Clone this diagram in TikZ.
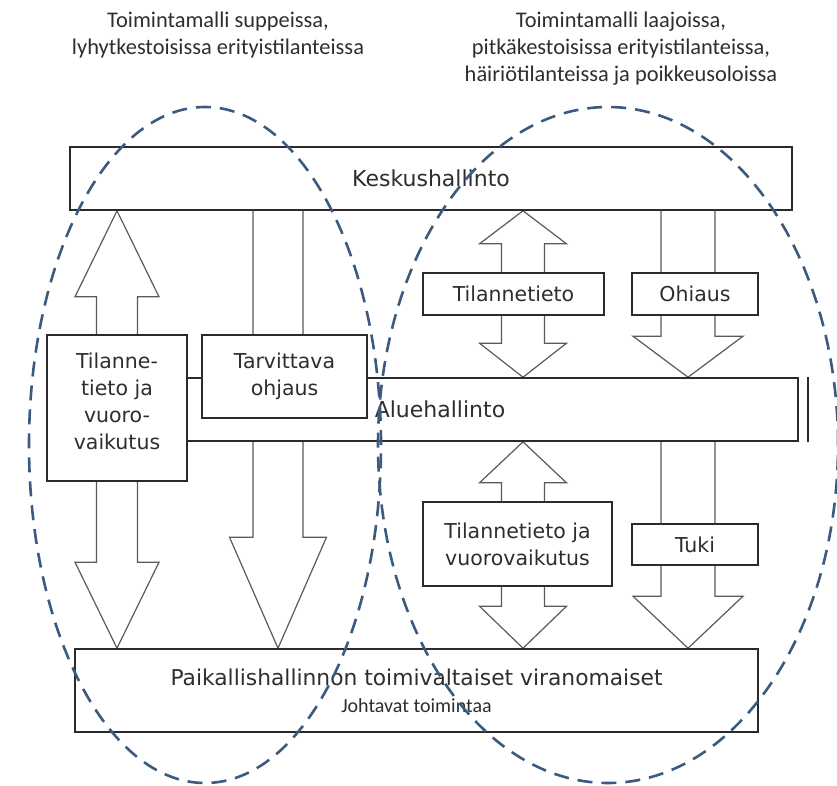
\documentclass[tikz,border=0pt]{standalone}
\usepackage{fontspec}
\setmainfont{DejaVu Sans}
\newfontfamily\titlefont{Carlito}
\usetikzlibrary{calc,backgrounds}
\definecolor{boxline}{HTML}{2B2B2B}
\definecolor{arrline}{HTML}{5A5A5A}
\definecolor{zonecol}{HTML}{3B5A7E}
\definecolor{txt}{HTML}{2E2E2E}
\tikzset{
  box/.style={draw=boxline,line width=1.6pt,fill=white,rectangle,inner sep=0pt,text=txt,align=center,font=\fontsize{20.5}{27}\selectfont},
  level/.style={box,font=\fontsize{22}{27}\selectfont},
  blk/.style n args={3}{draw=arrline,line width=1.2pt,
    to path={let \p1=(\tikztostart),\p2=(\tikztotarget),\n1={sign(\y2-\y1)} in
      (\x1-#1pt,\y1) -- (\x1-#1pt,\y2-\n1*#3pt) -- (\x1-#2pt,\y2-\n1*#3pt) -- (\x1,\y2)
      -- (\x1+#2pt,\y2-\n1*#3pt) -- (\x1+#1pt,\y2-\n1*#3pt) -- (\x1+#1pt,\y1)}},
  zone/.style={draw=zonecol,line width=2.6pt,dash pattern=on 15pt off 9pt},
  heading/.style={text=txt,align=center,font=\titlefont\fontsize{22.4}{27}\selectfont}
}

\begin{document}
\begin{tikzpicture}[x=1pt,y=-1pt]
\useasboundingbox (0,0) rectangle (837,785);

% otsikot
\node[heading] (hleft) at (218,35) {Toimintamalli suppeissa,\\lyhytkestoisissa erityistilanteissa};
\node[heading] (hright) at (621,48.5) {Toimintamalli laajoissa,\\pitkäkestoisissa erityistilanteissa,\\häiriötilanteissa ja poikkeusoloissa};

% hallinnon tasot
\node[level,minimum width=722pt,minimum height=63pt] (kesk) at (431,178.5) {Keskushallinto};
\node[level,minimum width=716pt,minimum height=63pt] (alue) at (440,409.5) {Aluehallinto};
\draw[boxline,line width=1.6pt] ([xshift=9pt]alue.north east) -- ([xshift=9pt]alue.south east);
\node[box,minimum width=683pt,minimum height=83pt,font=\fontsize{21.8}{27}\selectfont] (paik) at (416.5,690.5)
  {Paikallishallinnon toimivaltaiset viranomaiset\\{\titlefont\fontsize{20}{20}\selectfont Johtavat toimintaa}};

% vasen puoli
\node[box,minimum width=140pt,minimum height=146pt] (tiedot) at (117,408) {Tilanne-\\tieto ja\\vuoro-\\vaikutus\\[-14pt]};
\node[box,minimum width=165pt,minimum height=83pt] (tarve) at (284.5,376.5) {Tarvittava\\ohjaus};

% oikea puoli
\node[box,minimum width=181pt,minimum height=42pt] (tieto) at (513.5,294) {Tilannetieto};
\node[box,minimum width=126pt,minimum height=42pt] (ohjaus) at (695,294) {Ohiaus};
\node[box,minimum width=189pt,minimum height=84pt] (vuoro) at (517.5,544) {Tilannetieto ja\\vuorovaikutus};
\node[box,minimum width=126pt,minimum height=41pt] (tuki) at (695,544.5) {Tuki};

\coordinate (xl) at (278,0);
\coordinate (xa) at (523,0);
\coordinate (xb) at (688,0);

% nuolet
\begin{scope}[on background layer]
\draw[blk={20.5}{42}{86}] (tiedot.north) to (tiedot.north |- kesk.south);
\draw[blk={20.5}{42}{86}] (tiedot.south) to (tiedot.south |- paik.north);
\draw[blk={25}{48.5}{111}] (xl |- kesk.south) to (xl |- paik.north);
\draw[blk={21.5}{43.5}{33}] (xa |- tieto.north) to (xa |- kesk.south);
\draw[blk={21.5}{43.5}{34}] (xa |- tieto.south) to (xa |- alue.north);
\draw[blk={27}{55}{41}] (xb |- kesk.south) to (xb |- alue.north);
\draw[blk={21.5}{43.5}{41}] (xa |- vuoro.north) to (xa |- alue.south);
\draw[blk={21.5}{43.5}{42}] (xa |- vuoro.south) to (xa |- paik.north);
\draw[blk={27}{55}{52}] (xb |- alue.south) to (xb |- paik.north);
\end{scope}

% toimintamallien rajaus
\draw[zone] (205,445) ellipse [x radius=176pt,y radius=338pt];
\draw[zone] (608,445) ellipse [x radius=230pt,y radius=338pt];
\end{tikzpicture}
\end{document}
